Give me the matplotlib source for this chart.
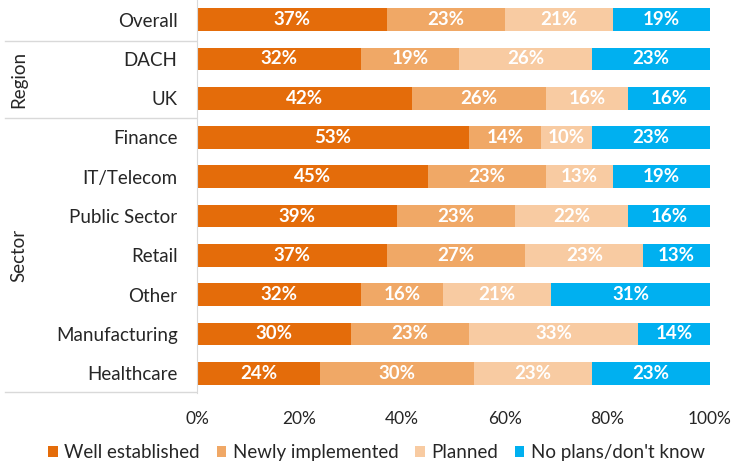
import numpy as np
import matplotlib.pyplot as plt
from matplotlib.lines import Line2D

plt.rcParams['font.family'] = ['Lato', 'DejaVu Sans']

categories = ['Overall', 'DACH', 'UK', 'Finance', 'IT/Telecom', 'Public Sector',
              'Retail', 'Other', 'Manufacturing', 'Healthcare']
series_names = ['Well established', 'Newly implemented', 'Planned', 'No plans/don\'t know']
well_established = [37, 32, 42, 53, 45, 39, 37, 32, 30, 24]
newly_implemented = [23, 19, 26, 14, 23, 23, 27, 16, 23, 30]
planned = [21, 26, 16, 10, 13, 22, 23, 21, 33, 23]
no_plans = [19, 23, 16, 23, 19, 16, 13, 31, 14, 23]
x_ticks = [0, 20, 40, 60, 80, 100]

colors = ['#E46C0A', '#F0A866', '#F8CBA2', '#00B0F0']

fig = plt.figure(figsize=(7.35, 4.66), dpi=100)
ax = fig.add_axes([0.268, 0.157, 0.698, 0.843])

y = np.arange(len(categories))
left = np.zeros(len(categories))
for vals, name, col in zip([well_established, newly_implemented, planned, no_plans],
                           series_names, colors):
    vals = np.array(vals, dtype=float)
    ax.barh(y, vals, left=left, height=0.58, color=col, label=name)
    for yi, (l, v) in enumerate(zip(left, vals)):
        ax.text(l + v / 2, yi, f'{int(v)}%', ha='center', va='center',
                color='white', fontsize=13.5, fontweight='bold')
    left += vals

ax.set_ylim(len(categories) - 0.5, -0.5)
ax.set_xlim(0, 100)
ax.set_yticks(y)
ax.set_yticklabels(categories, fontsize=13.5, color='#262626')
ax.set_xticks(x_ticks)
ax.set_xticklabels([f'{t}%' for t in x_ticks], fontsize=12.5, color='#262626')
ax.tick_params(axis='both', length=0)
ax.tick_params(axis='x', pad=13)
ax.tick_params(axis='y', pad=14)
for s in ['top', 'right', 'bottom']:
    ax.spines[s].set_visible(False)
ax.spines['left'].set_color('#D9D9D9')

# group labels and separators
fig.text(0.025, 1 - 79 / 466, 'Region', rotation=90, ha='center', va='center',
         fontsize=13.5, color='#262626')
fig.text(0.025, 1 - 255 / 466, 'Sector', rotation=90, ha='center', va='center',
         fontsize=13.5, color='#262626')
for yy in [41, 118, 392]:
    fig.add_artist(Line2D([5 / 735, 196 / 735], [1 - yy / 466, 1 - yy / 466],
                          color='#D9D9D9', lw=1))

ax.legend(loc='center', bbox_to_anchor=(0.35, -0.153), ncol=4, frameon=False,
          fontsize=13.5, handlelength=0.5, handleheight=0.5, handletextpad=0.35,
          columnspacing=0.9, labelcolor='#262626')

fig.savefig('out.png', dpi=100)
